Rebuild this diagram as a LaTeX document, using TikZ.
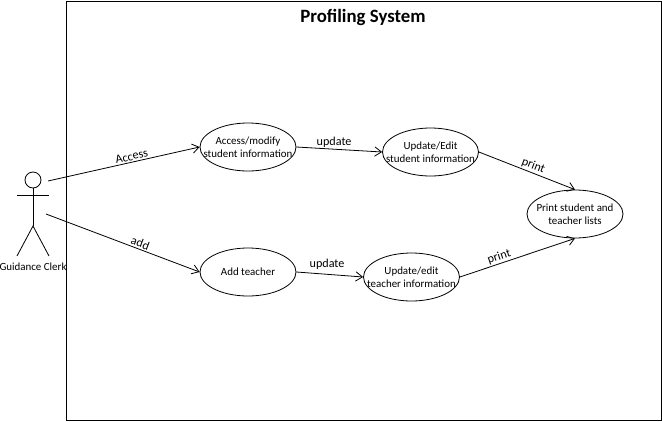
\documentclass[tikz,border=0pt]{standalone}
\usepackage{fontspec}
\setmainfont{Carlito}
\usetikzlibrary{arrows.meta}
\usetikzlibrary{shapes.geometric}
\tikzset{
  usecase/.style={draw, ellipse, minimum width=72pt, minimum height=36pt, inner xsep=-8pt, inner ysep=0pt, align=center, line width=0.6pt, font=\fontsize{8.2}{9.8}\selectfont},
  flow/.style={-{Straight Barb[length=5pt,width=7pt]}, line width=0.6pt},
  flowlabel/.style={font=\fontsize{9.1}{10}\selectfont, inner sep=1pt},
  actorline/.style={line width=0.6pt}
}
\begin{document}
\begin{tikzpicture}[x=0.75pt, y=-0.75pt]
  \useasboundingbox (0,0) rectangle (662,422);
  \fill[white] (0,0) rectangle (662,422);
  \node[draw, line width=1pt, minimum width=446.8pt, minimum height=313.9pt, inner sep=0pt, anchor=north west] (frame) at (65.5,1) {};
  \node[font=\bfseries\fontsize{14.1}{16}\selectfont] (title) at (363,17) {Profiling System};

  % actor
  \node[draw, circle, actorline, minimum size=12pt, inner sep=0pt] (head) at (33,180) {};
  \coordinate (armL) at (17,195);
  \coordinate (armR) at (49,195);
  \coordinate (hip) at (33,226);
  \coordinate (footL) at (17,256);
  \coordinate (footR) at (49,256);
  \draw[actorline] (armL) -- (armR);
  \draw[actorline] (head) -- (hip);
  \draw[actorline] (footL) -- (hip) -- (footR);
  \node[font=\fontsize{8.2}{10}\selectfont, inner sep=0pt] (clerk) at (33,267) {Guidance Clerk};
  \coordinate (actorTop) at (48,181);
  \coordinate (actorBottom) at (46,214);

  % use cases
  \node[usecase] (access) at (248,147) {Access/modify\\student information};
  \node[usecase] (updStudent) at (430.5,152) {Update/Edit\\student information};
  \node[usecase] (addTeacher) at (248,272) {Add teacher};
  \node[usecase] (updTeacher) at (411.5,277) {Update/edit\\teacher information};
  \node[usecase] (printLists) at (575,214) {Print student and\\teacher lists};

  % connectors
  \draw[flow] (actorTop) -- node[flowlabel, sloped, above, pos=0.56] {Access} (access.west);
  \draw[flow] (actorBottom) -- node[flowlabel, sloped, above, pos=0.6] {add} (addTeacher.west);
  \draw[flow] (access.east) -- node[flowlabel, above, pos=0.44] {update} (updStudent.west);
  \draw[flow] (addTeacher.east) -- node[flowlabel, above, yshift=2pt, pos=0.46] {update} (updTeacher.west);
  \draw[flow] (updStudent.east) -- node[flowlabel, sloped, above, pos=0.54] {print} (printLists.north);
  \draw[flow] (updTeacher.east) -- node[flowlabel, sloped, above, pos=0.36] {print} (printLists.south);
\end{tikzpicture}
\end{document}
